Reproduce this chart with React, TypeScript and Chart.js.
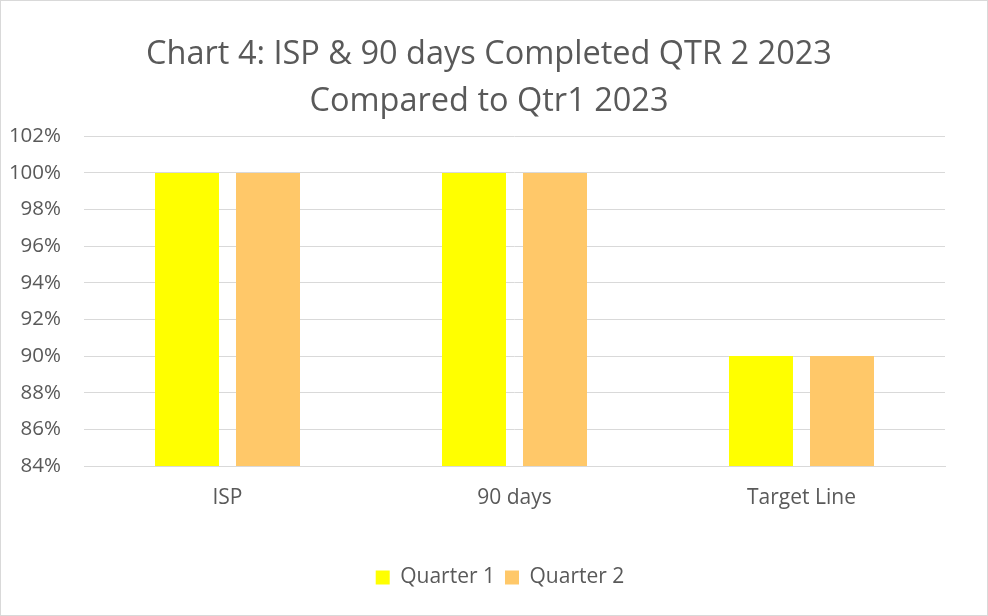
import React, { useEffect, useRef } from "react";
import { Chart, registerables } from "chart.js";

Chart.register(...registerables);

const titleLines = ["Chart 4: ISP & 90 days Completed QTR 2 2023", "Compared to Qtr1 2023"];
const categories = ["ISP", "90 days", "Target Line"];
const quarter1 = [100, 100, 90];
const quarter2 = [100, 100, 90];
const seriesNames = ["Quarter 1", "Quarter 2"];
const yMin = 84;
const yMax = 102;
const yStep = 2;

const FONT = "'Open Sans', 'Noto Sans', sans-serif";
const TEXT = "#595959";
const GRID = "#d9d9d9";

const shiftBoxes = {
  id: "shiftBoxes",
  afterLayout(chart: any) {
    const t = chart.titleBlock;
    if (t) { t.left += 16; t.right += 16; }
    const l = chart.legend;
    if (l) { l.left += 27; l.right += 27; }
  },
};

export default function App() {
  const ref = useRef<HTMLCanvasElement>(null);
  useEffect(() => {
    if (!ref.current) return;
    const chart = new Chart(ref.current, {
      type: "bar",
      data: {
        labels: categories,
        datasets: [
          { label: seriesNames[0], data: quarter1, backgroundColor: "#FFFF00", borderWidth: 0 },
          { label: seriesNames[1], data: quarter2, backgroundColor: "#FFC869", borderWidth: 0 },
        ],
      },
      plugins: [shiftBoxes],
      options: {
        animation: false,
        responsive: false,
        maintainAspectRatio: false,
        layout: { padding: { left: 0, right: 42, top: 0, bottom: 17 } },
        datasets: { bar: { categoryPercentage: 0.5645, barPercentage: 0.79 } },
        plugins: {
          title: {
            display: true,
            text: titleLines,
            color: TEXT,
            font: { family: FONT, size: 32.5, weight: "normal", lineHeight: 1.45 },
            padding: { top: 30, bottom: 11 },
          },
          legend: {
            position: "bottom",
            labels: {
              color: TEXT,
              font: { family: FONT, size: 21 },
              boxWidth: 14,
              boxHeight: 14,
              padding: 10,
            },
          },
          tooltip: { enabled: false },
        },
        scales: {
          x: {
            grid: { display: false, drawTicks: false },
            border: { display: true, color: GRID, width: 1 },
            ticks: { color: TEXT, font: { family: FONT, size: 21 }, padding: 19 },
            afterFit: (s: any) => { s.height = 91; },
          },
          y: {
            min: yMin,
            max: yMax,
            grid: { color: GRID, lineWidth: 1, drawTicks: false },
            border: { display: false },
            ticks: {
              stepSize: yStep,
              color: TEXT,
              font: { family: FONT, size: 20.5 },
              padding: 23,
              callback: (v: any) => v + "%",
            },
            afterFit: (s: any) => { s.width = 83; },
          },
        },
      },
    });
    return () => chart.destroy();
  }, []);
  return (
    <div
      style={{
        position: "fixed",
        left: 0,
        top: 0,
        width: 986,
        height: 614,
        border: "1px solid #d9d9d9",
        background: "#fff",
      }}
    >
      <canvas ref={ref} width={986} height={614} style={{ display: "block", width: 986, height: 614 }} />
    </div>
  );
}
